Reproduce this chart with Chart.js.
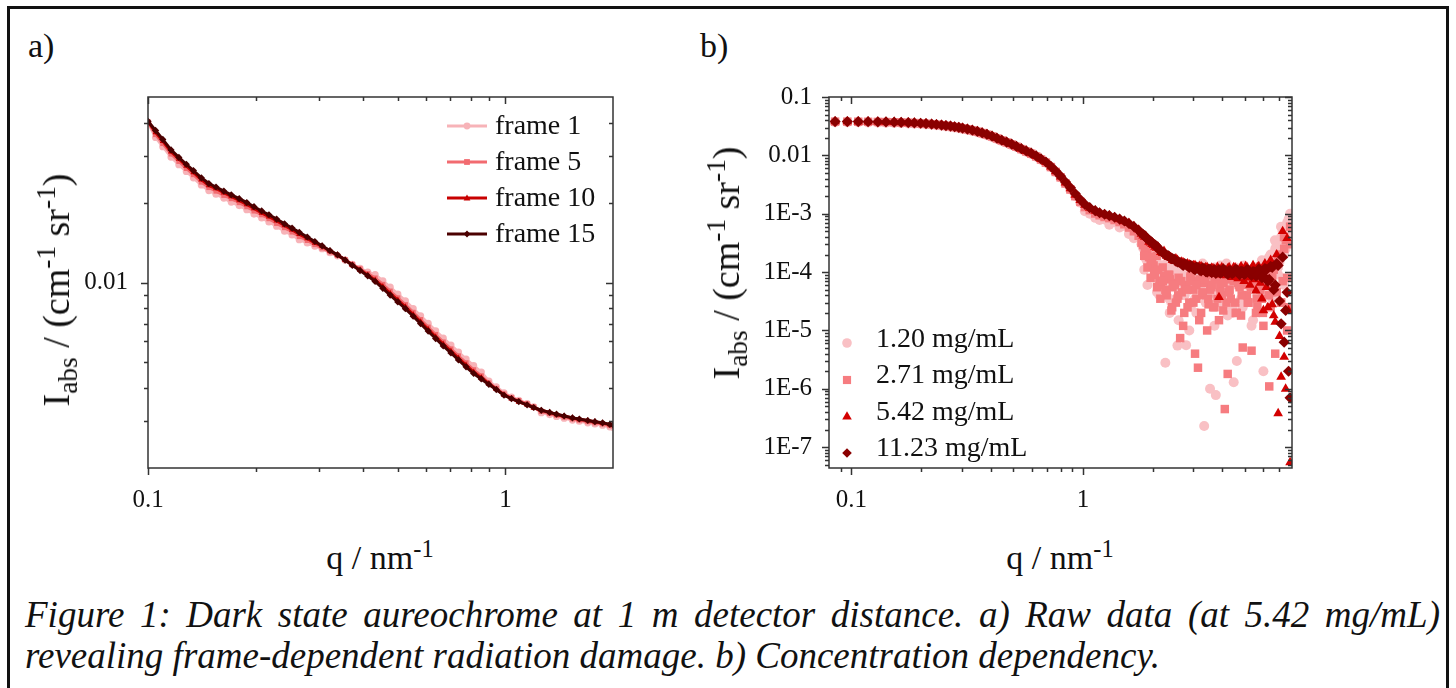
<!DOCTYPE html>
<html>
<head>
<meta charset="utf-8">
<script src="https://cdn.jsdelivr.net/npm/chart.js@4.4.1/dist/chart.umd.min.js"></script>
<style>
  html, body { margin: 0; padding: 0; background: #fff; }
  body { width: 1456px; height: 688px; position: relative; overflow: hidden;
         font-family: "Liberation Serif", "Times New Roman", serif; color: #111; }
  #box { position: absolute; left: 7px; top: 6px; width: 1442px; height: 720px;
         border: 3px solid #111; box-sizing: border-box; }
  canvas { position: absolute; }
  .panel { position: absolute; font-size: 34px; line-height: 34px; }
  .xtitle { position: absolute; top: 541px; font-size: 34px; line-height: 34px; white-space: nowrap;
            transform: translateX(-50%); }
  .ytitle { position: absolute; font-size: 38px; line-height: 38px; white-space: nowrap;
            transform: translate(-50%, -50%) rotate(-90deg); }
  sub, sup { font-size: 0.72em; line-height: 0; }
  sub { vertical-align: -0.28em; }
  sup { vertical-align: 0.5em; }
  .leg { position: absolute; font-size: 28px; line-height: 28px; white-space: nowrap; }
  #caption { position: absolute; left: 25px; top: 594px; width: 1415px; font-size: 37px; font-style: italic;
             line-height: 41px; text-align: justify; }
</style>
</head>
<body>
<div id="box"></div>
<div class="panel" style="left:28px;top:29px">a)</div>
<div class="panel" style="left:700px;top:29px">b)</div>
<canvas id="chartA" width="620" height="446" style="left:20px;top:62px;width:620px;height:446px"></canvas>
<canvas id="chartB" width="620" height="443" style="left:700px;top:65px;width:620px;height:443px"></canvas>
<div class="xtitle" style="left:380px">q / nm<sup>-1</sup></div>
<div class="xtitle" style="left:1060px">q / nm<sup>-1</sup></div>
<div class="ytitle" style="left:56px;top:290px">I<sub>abs</sub> / (cm<sup>-1</sup> sr<sup>-1</sup>)</div>
<div class="ytitle" style="left:726px;top:263px">I<sub>abs</sub> / (cm<sup>-1</sup> sr<sup>-1</sup>)</div>
<div id="legendA"></div>
<div id="legendB"></div>
<div id="caption">Figure 1: Dark state aureochrome at 1 m detector distance. a) Raw data (at 5.42 mg/mL) revealing frame-dependent radiation damage. b) Concentration dependency.</div>

<script>
// ---- panel a: raw frames at 5.42 mg/mL ----
const qA = [
  0.100, 0.105, 0.110, 0.116, 0.122, 0.128, 0.134, 0.141, 0.148, 0.155,
  0.163, 0.171, 0.180, 0.189, 0.198, 0.208, 0.218, 0.229, 0.241, 0.253,
  0.265, 0.279, 0.293, 0.307, 0.323, 0.339, 0.356, 0.373, 0.392, 0.412,
  0.432, 0.454, 0.476, 0.500, 0.525, 0.552, 0.579, 0.608, 0.638, 0.670,
  0.704, 0.739, 0.776, 0.815, 0.856, 0.899, 0.943, 0.991, 1.04, 1.09,
  1.15, 1.20, 1.26, 1.33, 1.39, 1.46, 1.54, 1.61, 1.70, 1.78,
  1.87, 1.96, 2.00
];
const frame1 = [
  0.0400, 0.0352, 0.0325, 0.0297, 0.0278, 0.0262, 0.0248, 0.0233, 0.0222, 0.0215,
  0.0208, 0.0201, 0.0195, 0.0188, 0.0181, 0.0175, 0.0169, 0.0163, 0.0156, 0.0151,
  0.0145, 0.0141, 0.0137, 0.0134, 0.01295, 0.0126, 0.01215, 0.0117, 0.0113, 0.01095,
  0.0107, 0.01015, 0.0096, 0.00904, 0.00853, 0.00798, 0.00749, 0.00702, 0.00658, 0.00617,
  0.00581, 0.00547, 0.00515, 0.00486, 0.0046, 0.00425, 0.00404, 0.00384, 0.0037, 0.0036,
  0.0035, 0.0034, 0.00323, 0.00318, 0.00313, 0.00308, 0.00303, 0.0030, 0.00296, 0.00293,
  0.0029, 0.00286, 0.00285
];
const frame5 = [
  0.0403, 0.0361, 0.0334, 0.0305, 0.0286, 0.0269, 0.0255, 0.0239, 0.0228, 0.0221,
  0.0213, 0.0207, 0.0200, 0.0193, 0.0186, 0.0180, 0.0174, 0.0167, 0.0161, 0.0155,
  0.0149, 0.0144, 0.0139, 0.0135, 0.01305, 0.01265, 0.0122, 0.0117, 0.01125, 0.0108,
  0.0104, 0.00984, 0.00928, 0.00875, 0.00825, 0.00772, 0.00725, 0.00679, 0.00637, 0.00597,
  0.00562, 0.00529, 0.00498, 0.00469, 0.00445, 0.00418, 0.00399, 0.0038, 0.00368, 0.00359,
  0.00349, 0.0034, 0.00327, 0.00321, 0.00316, 0.00311, 0.00306, 0.00303, 0.00299, 0.00296,
  0.00293, 0.00289, 0.00288
];
const frame10 = [
  0.0405, 0.0368, 0.0341, 0.0311, 0.0292, 0.0275, 0.0260, 0.0244, 0.0232, 0.0226,
  0.0218, 0.0211, 0.0204, 0.0197, 0.0190, 0.0183, 0.0177, 0.0171, 0.0164, 0.0158,
  0.0152, 0.01465, 0.0141, 0.0137, 0.01315, 0.0127, 0.01217, 0.01165, 0.01115, 0.01067,
  0.0102, 0.00965, 0.0091, 0.00858, 0.00809, 0.00757, 0.00711, 0.00666, 0.00624, 0.00586,
  0.00551, 0.00519, 0.00488, 0.0046, 0.00438, 0.00416, 0.00396, 0.00377, 0.00365, 0.00355,
  0.00346, 0.00337, 0.0033, 0.00324, 0.00318, 0.00314, 0.00309, 0.00305, 0.00302, 0.00299,
  0.00295, 0.00292, 0.0029
];
const frame15 = [
  0.0405, 0.0374, 0.0346, 0.0316, 0.0296, 0.0279, 0.0264, 0.0248, 0.0236, 0.0229,
  0.0221, 0.0214, 0.0207, 0.0200, 0.0193, 0.0186, 0.0180, 0.01734, 0.01664, 0.01603,
  0.01545, 0.01484, 0.01427, 0.01375, 0.01318, 0.01271, 0.01215, 0.01161, 0.01109, 0.01059,
  0.01009, 0.00951, 0.00897, 0.00845, 0.00797, 0.00746, 0.0070, 0.00656, 0.00615, 0.00577,
  0.00543, 0.00511, 0.00481, 0.00454, 0.00433, 0.00413, 0.00395, 0.00376, 0.00365, 0.00356,
  0.00346, 0.00338, 0.0033, 0.00324, 0.00319, 0.00314, 0.00309, 0.00306, 0.00302, 0.00299,
  0.00296, 0.00292, 0.00291
];
const frameLabels = ['frame 1', 'frame 5', 'frame 10', 'frame 15'];

// ---- panel b: concentration series ----
const qB = [
  0.085, 0.096, 0.107, 0.118, 0.130, 0.141, 0.153, 0.164, 0.176, 0.187,
  0.199, 0.210, 0.222, 0.233, 0.245, 0.256, 0.268, 0.279, 0.291, 0.302,
  0.317, 0.333, 0.350, 0.367, 0.385, 0.405, 0.425, 0.446, 0.468, 0.492,
  0.516, 0.542, 0.569, 0.598, 0.628, 0.659, 0.692, 0.727, 0.763, 0.801,
  0.841, 0.883, 0.927, 0.974, 1.02, 1.07, 1.13, 1.18, 1.24, 1.30,
  1.37, 1.44, 1.51, 1.58, 1.66, 1.74, 1.79, 1.85, 1.90, 1.96,
  2.02, 2.08, 2.14, 2.21, 2.27, 2.34, 2.41, 2.48, 2.56, 2.63,
  2.71, 2.79, 2.88, 2.96, 3.05, 3.14, 3.24, 3.34, 3.44, 3.54,
  3.65, 3.75, 3.87, 3.98, 4.10, 4.22, 4.35, 4.48, 4.62, 4.75,
  4.90, 5.04, 5.19, 5.35, 5.51, 5.67, 5.84, 6.02, 6.20, 6.38,
  6.57, 6.77, 6.97, 7.18, 7.40, 7.62, 7.85
];
const conc120 = [
  0.0370, 0.0370, 0.0369, 0.0367, 0.0365, 0.0363, 0.0360, 0.0357, 0.0353, 0.0349,
  0.0344, 0.0340, 0.0334, 0.0328, 0.0321, 0.0314, 0.0307, 0.0300, 0.0292, 0.0284,
  0.0274, 0.0262, 0.0249, 0.0236, 0.0222, 0.0207, 0.0191, 0.0177, 0.0164, 0.0151,
  0.0139, 0.0126, 0.0115, 0.0106, 0.0095, 0.0084, 0.0075, 0.0063, 0.0052, 0.0042,
  0.0033, 0.0026, 0.0020, 0.00155, 0.0011, 0.0010, 8.5e-4, 7.8e-4, 8.0e-4, 6.5e-4,
  7.2e-4, 5.8e-4, 6.2e-4, 4.5e-4, 3.8e-4, 4.2e-4, 3.0e-4, 2.0e-4, 1.5e-4, 2.4e-4,
  8.0e-5, 1.6e-4, 4.0e-5, 1.1e-4, 2.8e-6, 1.4e-4, 3.0e-5, 9.0e-5, 5.5e-6, 7.0e-5,
  1.3e-4, 5.6e-6, 1.0e-5, 8.5e-5, 3.5e-5, 1.2e-4, 6.0e-5, 2.3e-7, 9.0e-5, 1.0e-6,
  5.0e-5, 7.8e-7, 1.1e-4, 3.0e-5, 7.5e-5, 1.8e-5, 1.0e-4, 1.3e-6, 3.0e-6, 8.0e-5,
  2.5e-5, 1.1e-4, 6.0e-5, 1.2e-5, 9.0e-5, 4.0e-5, 1.3e-4, 2.0e-6, 7.0e-5, 1.5e-4,
  3.5e-5, 2.5e-4, 9.0e-5, 4.0e-4, 6.0e-5, 7.0e-4, 1.0e-3
];
const conc271 = [
  0.0378, 0.0378, 0.0377, 0.0376, 0.0374, 0.0372, 0.0369, 0.0366, 0.0362, 0.0358,
  0.0353, 0.0348, 0.0342, 0.0336, 0.0329, 0.0322, 0.0315, 0.0307, 0.0299, 0.0291,
  0.0280, 0.0268, 0.0255, 0.0241, 0.0227, 0.0211, 0.0195, 0.0180, 0.0167, 0.0154,
  0.0141, 0.0128, 0.0117, 0.0107, 0.0096, 0.0085, 0.0075, 0.0063, 0.0052, 0.0042,
  0.0033, 0.0026, 0.0020, 0.0016, 0.0013, 0.00115, 0.00101, 9.4e-4, 8.8e-4, 8.4e-4,
  7.8e-4, 7.2e-4, 6.6e-4, 5.8e-4, 5.0e-4, 4.2e-4, 3.2e-4, 2.6e-4, 2.5e-4, 1.6e-4,
  1.3e-4, 1.9e-4, 7.0e-5, 1.2e-4, 5.0e-5, 9.0e-5, 2.2e-5, 6.5e-5, 3.5e-5, 7.4e-6,
  1.2e-5, 5.5e-5, 3.0e-5, 7.0e-5, 4.0e-6, 2.3e-6, 2.0e-5, 6.5e-5, 1.0e-5, 5.0e-5,
  2.5e-5, 7.5e-5, 1.5e-5, 4.0e-5, 4.5e-7, 1.8e-6, 3.5e-5, 7.0e-5, 2.0e-5, 5.5e-5,
  5.1e-6, 6.0e-5, 3.0e-5, 4.5e-6, 7.0e-5, 2.5e-5, 5.0e-5, 1.2e-5, 6.5e-5, 1.1e-6,
  8.0e-5, 4.0e-6, 1.5e-4, 3.0e-5, 2.5e-4, 1.0e-5, 6.0e-4
];
const conc542 = [
  0.0380, 0.0380, 0.0379, 0.0378, 0.0376, 0.0373, 0.0371, 0.0367, 0.0364, 0.0359,
  0.0355, 0.0349, 0.0344, 0.0337, 0.0331, 0.0323, 0.0316, 0.0309, 0.0300, 0.0292,
  0.0281, 0.0269, 0.0256, 0.0242, 0.0228, 0.0212, 0.0196, 0.0181, 0.0168, 0.0155,
  0.0142, 0.0129, 0.0118, 0.0108, 0.0097, 0.0086, 0.0076, 0.0064, 0.0053, 0.0043,
  0.0034, 0.0027, 0.0021, 0.0017, 0.00142, 0.00125, 0.00112, 0.00103, 9.7e-4, 9.2e-4,
  8.6e-4, 8.0e-4, 7.4e-4, 6.9e-4, 6.1e-4, 5.3e-4, 4.5e-4, 4.0e-4, 3.8e-4, 3.2e-4,
  2.9e-4, 2.6e-4, 2.5e-4, 2.1e-4, 2.0e-4, 1.8e-4, 1.75e-4, 1.55e-4, 1.6e-4, 1.4e-4,
  1.45e-4, 1.25e-4, 1.35e-4, 1.15e-4, 1.3e-4, 1.1e-4, 1.25e-4, 1.0e-4, 1.2e-4, 9.5e-5,
  1.15e-4, 1.0e-4, 3.7e-5, 1.2e-4, 9.0e-5, 1.15e-4, 9.5e-5, 1.2e-4, 8.5e-5, 1.1e-4,
  9.0e-5, 1.25e-4, 8.0e-5, 1.15e-4, 7.5e-5, 1.2e-4, 6.5e-5, 2.2e-5, 5.5e-5, 1.4e-4,
  2.8e-5, 1.4e-5, 3.8e-7, 1.6e-6, 3.5e-6, 3.8e-4, 5.5e-8
];
const conc1123 = [
  0.0380, 0.0380, 0.0380, 0.0378, 0.0376, 0.0374, 0.0371, 0.0368, 0.0364, 0.0360,
  0.0355, 0.0350, 0.0344, 0.0338, 0.0331, 0.0324, 0.0317, 0.0309, 0.0301, 0.0293,
  0.0282, 0.0270, 0.0257, 0.0243, 0.0229, 0.0213, 0.0197, 0.0182, 0.0169, 0.0156,
  0.0143, 0.0130, 0.0119, 0.0109, 0.0098, 0.0087, 0.0077, 0.0065, 0.0054, 0.0044,
  0.0035, 0.0028, 0.0022, 0.00175, 0.00145, 0.00127, 0.00113, 0.00104, 9.8e-4, 9.3e-4,
  8.7e-4, 8.1e-4, 7.5e-4, 6.8e-4, 6.0e-4, 5.2e-4, 4.6e-4, 4.2e-4, 3.7e-4, 3.4e-4,
  3.0e-4, 2.8e-4, 2.4e-4, 2.2e-4, 2.0e-4, 1.9e-4, 1.7e-4, 1.65e-4, 1.5e-4, 1.45e-4,
  1.3e-4, 1.35e-4, 1.2e-4, 1.25e-4, 1.1e-4, 1.2e-4, 1.05e-4, 1.15e-4, 1.0e-4, 1.12e-4,
  1.05e-4, 9.5e-5, 1.1e-4, 1.0e-4, 1.08e-4, 9.2e-5, 1.05e-4, 9.8e-5, 1.1e-4, 9.0e-5,
  1.02e-4, 9.5e-5, 1.08e-4, 8.8e-5, 1.0e-4, 9.2e-5, 1.05e-4, 8.5e-5, 1.1e-4, 7.5e-5,
  1.2e-4, 6.0e-5, 1.3e-4, 1.3e-5, 6.3e-6, 4.5e-5, 7.0e-7
];
// extra high-q points between the grid above (noisy tail)
const qBTail = [
  1.82, 1.87, 1.93, 1.99, 2.05, 2.11, 2.17, 2.24, 2.30, 2.37,
  2.44, 2.52, 2.59, 2.67, 2.75, 2.83, 2.92, 3.00, 3.09, 3.19,
  3.29, 3.39, 3.49, 3.60, 3.70, 3.81, 3.92, 4.04, 4.16, 4.28,
  4.41, 4.55, 4.68, 4.82, 4.97, 5.11, 5.27, 5.43, 5.59, 5.75,
  5.93, 6.11, 6.29, 6.47, 6.67, 6.87, 7.07, 7.29, 7.51, 7.73
];
const conc120Tail = [
  2.6e-4, 1.7e-4, 2.1e-4, 1.2e-4, 1.8e-4, 7.0e-5, 1.3e-4, 5.0e-5, 1.0e-4, 2.0e-5,
  1.2e-4, 6.5e-5, 1.5e-5, 9.5e-5, 4.0e-5, 1.25e-4, 2.5e-5, 8.0e-5, 1.1e-4, 5.0e-5,
  1.4e-4, 3.0e-5, 1.0e-4, 7.0e-5, 1.2e-5, 9.0e-5, 1.3e-4, 4.5e-5, 1.1e-4, 6.0e-5,
  2.0e-5, 1.2e-4, 8.5e-5, 3.5e-5, 1.3e-4, 6.5e-5, 1.0e-4, 1.5e-5, 1.2e-4, 8.0e-5,
  1.6e-4, 4.5e-5, 1.3e-4, 2.0e-4, 9.0e-5, 3.0e-4, 1.5e-4, 5.0e-4, 2.5e-4, 8.0e-4
];
const conc271Tail = [
  2.9e-4, 2.2e-4, 1.8e-4, 1.4e-4, 9.0e-5, 1.1e-4, 6.0e-5, 8.5e-5, 4.0e-5, 7.5e-5,
  5.5e-5, 3.0e-5, 8.0e-5, 4.5e-5, 6.0e-5, 2.5e-5, 8.5e-5, 5.0e-5, 3.5e-5, 7.5e-5,
  4.0e-5, 9.0e-5, 2.8e-5, 6.0e-5, 8.0e-5, 3.5e-5, 5.5e-5, 2.2e-5, 7.5e-5, 4.5e-5,
  9.0e-5, 3.0e-5, 6.5e-5, 1.8e-5, 8.0e-5, 4.0e-5, 7.0e-5, 5.5e-5, 2.0e-5, 8.5e-5,
  3.5e-5, 9.5e-5, 6.0e-5, 2.5e-5, 1.1e-4, 4.5e-5, 2.0e-4, 7.0e-5, 3.5e-4, 2.5e-5
];
const conc542Tail = [
  4.2e-4, 4.1e-4, 3.3e-4, 3.0e-4, 2.7e-4, 2.7e-4, 2.2e-4, 2.3e-4, 1.9e-4, 1.85e-4,
  1.6e-4, 1.7e-4, 1.45e-4, 1.5e-4, 1.3e-4, 1.4e-4, 1.2e-4, 1.3e-4, 1.12e-4, 1.25e-4,
  1.05e-4, 1.2e-4, 9.8e-5, 1.18e-4, 9.2e-5, 1.22e-4, 9.0e-5, 1.15e-4, 8.8e-5, 1.2e-4,
  8.2e-5, 1.18e-4, 7.8e-5, 1.25e-4, 7.0e-5, 1.2e-4, 6.0e-5, 1.3e-4, 4.8e-5, 1.25e-4,
  3.5e-5, 1.4e-4, 2.5e-5, 1.6e-4, 1.8e-5, 2.0e-4, 8.0e-6, 5.0e-4, 1.0e-6, 2.2e-5
];
const conc1123Tail = [
  4.4e-4, 3.9e-4, 3.5e-4, 3.2e-4, 2.9e-4, 2.6e-4, 2.3e-4, 2.1e-4, 1.95e-4, 1.8e-4,
  1.7e-4, 1.55e-4, 1.5e-4, 1.38e-4, 1.4e-4, 1.28e-4, 1.3e-4, 1.15e-4, 1.22e-4, 1.08e-4,
  1.18e-4, 1.02e-4, 1.12e-4, 9.8e-5, 1.1e-4, 1.04e-4, 9.6e-5, 1.12e-4, 9.7e-5, 1.06e-4,
  9.4e-5, 1.1e-4, 9.9e-5, 1.04e-4, 9.1e-5, 1.1e-4, 9.6e-5, 1.02e-4, 8.6e-5, 1.12e-4,
  8.0e-5, 1.15e-4, 7.0e-5, 1.25e-4, 5.0e-5, 1.4e-4, 3.2e-5, 1.8e-4, 2.2e-5, 2.0e-6
];
// second set of tail points for the two dilute samples (dense cloud)
const qBTail2 = [
  1.84, 1.90, 1.96, 2.03, 2.09, 2.16, 2.22, 2.29, 2.36, 2.43,
  2.50, 2.58, 2.66, 2.74, 2.82, 2.91, 3.00, 3.09, 3.18, 3.28,
  3.38, 3.48, 3.59, 3.70, 3.81, 3.93, 4.05, 4.17, 4.30, 4.43,
  4.57, 4.71, 4.85, 5.00, 5.15, 5.31, 5.47, 5.64, 5.81, 5.99,
  6.17, 6.36, 6.55, 6.75, 6.96, 7.17, 7.39, 7.62, 7.85
];
const conc120Tail2 = [
  1.1e-4, 6.0e-5, 1.3e-4, 8.0e-5, 4.5e-5, 1.1e-4, 7.5e-5, 1.4e-4, 3.5e-5, 9.0e-5,
  6.0e-5, 1.2e-4, 4.0e-5, 1.0e-4, 7.0e-5, 5.0e-5, 1.3e-4, 2.0e-5, 9.5e-5, 6.5e-5,
  1.1e-4, 4.0e-5, 8.0e-5, 1.2e-4, 5.5e-5, 3.0e-5, 9.0e-5, 1.4e-4, 6.0e-5, 2.5e-5,
  1.0e-4, 7.0e-5, 1.2e-4, 4.0e-5, 8.5e-5, 1.1e-4, 3.0e-5, 7.0e-5, 1.3e-4, 5.0e-5,
  9.0e-5, 1.8e-4, 6.0e-5, 3.5e-4, 1.2e-4, 6.0e-4, 2.0e-4, 3.0e-4, 4.5e-4
];
const conc271Tail2 = [
  1.9e-4, 1.2e-4, 8.0e-5, 1.0e-4, 5.5e-5, 3.5e-5, 7.0e-5, 4.5e-5, 9.0e-5, 2.5e-5,
  6.0e-5, 4.0e-5, 7.0e-5, 2.0e-5, 5.0e-5, 8.0e-5, 3.0e-5, 6.0e-5, 1.5e-5, 4.5e-5,
  7.5e-5, 3.5e-5, 5.5e-5, 2.5e-5, 8.5e-5, 4.5e-5, 6.5e-5, 3.0e-5, 5.0e-5, 8.0e-5,
  2.0e-5, 6.0e-5, 4.0e-5, 7.5e-5, 3.0e-5, 5.5e-5, 9.0e-5, 3.5e-5, 6.0e-5, 2.0e-5,
  7.0e-5, 4.0e-5, 1.0e-4, 5.0e-5, 1.6e-4, 3.0e-5, 4.0e-4, 8.0e-5, 3.0e-4
];
const concLabels = ['1.20 mg/mL', '2.71 mg/mL', '5.42 mg/mL', '11.23 mg/mL'];

// ticks
const xTicksA = [0.1, 1], xTickLabelsA = ['0.1', '1'];
const yTicksA = [0.01], yTickLabelsA = ['0.01'];
const xMinorA = [0.2, 0.3, 0.4, 0.5, 0.6, 0.7, 0.8, 0.9];
const yMinorA = [0.003, 0.004, 0.005, 0.006, 0.007, 0.008, 0.009, 0.02, 0.03, 0.04];
const xTicksB = [0.1, 1], xTickLabelsB = ['0.1', '1'];
const yTicksB = [0.1, 0.01, 1e-3, 1e-4, 1e-5, 1e-6, 1e-7];
const yTickLabelsB = ['0.1', '0.01', '1E-3', '1E-4', '1E-5', '1E-6', '1E-7'];
const xMinorB = [0.09, 0.2, 0.3, 0.4, 0.5, 0.6, 0.7, 0.8, 0.9, 2, 3, 4, 5, 6, 7];
const yMinorB = [];
[1e-8, 1e-7, 1e-6, 1e-5, 1e-4, 1e-3, 1e-2].forEach(d => {
  for (let m = 2; m <= 9; m++) { const v = m * d; if (v > 4.4e-8 && v < 0.1) yMinorB.push(v); }
});

const frameColors = ['#f7b3b8', '#f26b70', '#c80000', '#4b0000'];
const frameMarkers = ['circle', 'rect', 'triangle', 'rectRot'];
const concColors = ['#f9c0c4', '#f67c80', '#d30000', '#8a0000'];
const concMarkers = ['circle', 'rect', 'triangle', 'rectRot'];

// box, mirrored ticks
const frameAxes = {
  id: 'frameAxes',
  afterDatasetsDraw(chart, args, o) {
    const { ctx, chartArea: a, scales } = chart;
    ctx.save();
    ctx.strokeStyle = '#333';
    ctx.lineWidth = 1.5;
    ctx.strokeRect(a.left, a.top, a.right - a.left, a.bottom - a.top);
    ctx.beginPath();
    const xt = (vals, len) => vals.forEach(v => {
      const p = Math.round(scales.x.getPixelForValue(v)) + 0.5;
      ctx.moveTo(p, a.bottom); ctx.lineTo(p, a.bottom + len);
      ctx.moveTo(p, a.top); ctx.lineTo(p, a.top + len);
    });
    const yt = (vals, len) => vals.forEach(v => {
      const p = Math.round(scales.y.getPixelForValue(v)) + 0.5;
      ctx.moveTo(a.left, p); ctx.lineTo(a.left - len, p);
      ctx.moveTo(a.right, p); ctx.lineTo(a.right - len, p);
    });
    xt(o.xMajor, 7); xt(o.xMinor, 4);
    yt(o.yMajor, 7); yt(o.yMinor, 4);
    ctx.stroke();
    ctx.restore();
  }
};

function logAxis(min, max, ticks, labels, pad, size, isX) {
  return {
    type: 'logarithmic', min, max,
    grid: { display: false, drawTicks: false },
    border: { display: false },
    afterBuildTicks: s => { s.ticks = ticks.map(v => ({ value: v })); },
    afterFit: s => { if (isX) s.height = size; else s.width = size; },
    ticks: {
      autoSkip: false, maxRotation: 0, padding: pad, color: '#111',
      font: { family: 'Liberation Serif', size: 25 },
      callback: (v, i) => labels[i]
    }
  };
}

new Chart(document.getElementById('chartA'), {
  type: 'line',
  data: {
    datasets: [frame1, frame5, frame10, frame15].map((ys, k) => ({
      label: frameLabels[k],
      data: qA.map((q, i) => ({ x: q, y: ys[i] })),
      borderColor: frameColors[k], backgroundColor: frameColors[k],
      pointStyle: frameMarkers[k], pointRadius: 3.6, pointBorderWidth: 0,
      borderWidth: 3, tension: 0, order: 4 - k
    }))
  },
  options: {
    responsive: false, animation: false, events: [],
    layout: { padding: { left: 0, top: 0, right: 27, bottom: 0 } },
    plugins: {
      legend: { display: false }, tooltip: { enabled: false },
      frameAxes: { xMajor: xTicksA, xMinor: xMinorA, yMajor: yTicksA, yMinor: yMinorA }
    },
    scales: {
      x: logAxis(0.1, 2, xTicksA, xTickLabelsA, 17, 40, true),
      y: logAxis(0.002, 0.05, yTicksA, yTickLabelsA, 20, 128, false)
    }
  },
  plugins: [frameAxes]
});

const concMain = [conc120, conc271, conc542, conc1123];
const concTail = [conc120Tail, conc271Tail, conc542Tail, conc1123Tail];
const concTail2 = [conc120Tail2, conc271Tail2, [], []];
new Chart(document.getElementById('chartB'), {
  type: 'scatter',
  data: {
    datasets: concMain.map((ys, k) => ({
      label: concLabels[k],
      data: qB.map((q, i) => ({ x: q, y: ys[i] }))
        .concat(qBTail.map((q, i) => ({ x: q, y: concTail[k][i] })))
        .concat(concTail2[k].map((y, i) => ({ x: qBTail2[i], y }))),
      borderColor: concColors[k], backgroundColor: concColors[k],
      pointStyle: concMarkers[k], pointRadius: [5, 6, 5.6, 5.6][k], pointBorderWidth: 0,
      showLine: false, order: 4 - k
    }))
  },
  options: {
    responsive: false, animation: false, events: [],
    layout: { padding: { left: 0, top: 0, right: 28, bottom: 0 } },
    plugins: {
      legend: { display: false }, tooltip: { enabled: false },
      frameAxes: { xMajor: xTicksB, xMinor: xMinorB, yMajor: yTicksB, yMinor: yMinorB }
    },
    scales: {
      x: logAxis(0.08, 8, xTicksB, xTickLabelsB, 17, 40, true),
      y: logAxis(4.4e-8, 0.1, yTicksB, yTickLabelsB, 17, 129, false)
    }
  },
  plugins: [frameAxes]
});

// legends (HTML)
function markerSvg(style, color, cx, cy, r) {
  if (style === 'circle') return `<circle cx="${cx}" cy="${cy}" r="${r}" fill="${color}"/>`;
  if (style === 'rect') return `<rect x="${cx - r * 0.85}" y="${cy - r * 0.85}" width="${r * 1.7}" height="${r * 1.7}" fill="${color}"/>`;
  if (style === 'triangle') return `<polygon points="${cx},${cy - r} ${cx + r},${cy + r * 0.75} ${cx - r},${cy + r * 0.75}" fill="${color}"/>`;
  return `<polygon points="${cx},${cy - r} ${cx + r},${cy} ${cx},${cy + r} ${cx - r},${cy}" fill="${color}"/>`;
}
function buildLegend(el, labels, colors, markers, o) {
  labels.forEach((lab, k) => {
    const base = o.base + k * o.step;
    const row = document.createElement('div');
    row.className = 'leg';
    row.style.left = o.textX + 'px';
    row.style.top = (base - 23.5) + 'px';
    row.textContent = lab;
    el.appendChild(row);
    const svg = document.createElementNS('http://www.w3.org/2000/svg', 'svg');
    svg.setAttribute('width', 50); svg.setAttribute('height', 20);
    svg.style.position = 'absolute';
    svg.style.left = (o.iconX - 25) + 'px';
    svg.style.top = (base - o.iconDy - 10) + 'px';
    let inner = '';
    if (o.line) inner += `<line x1="5" y1="10" x2="45" y2="10" stroke="${colors[k]}" stroke-width="3"/>`;
    inner += markerSvg(markers[k], colors[k], 25, 10, o.r);
    svg.innerHTML = inner;
    el.appendChild(svg);
  });
}
buildLegend(document.getElementById('legendA'), frameLabels, frameColors, frameMarkers,
  { base: 134, step: 36, textX: 495, iconX: 467, iconDy: 8, line: true, r: 3.4 });
buildLegend(document.getElementById('legendB'), concLabels, concColors, concMarkers,
  { base: 347, step: 36.5, textX: 876, iconX: 847, iconDy: 4, line: false, r: 4.8 });
</script>
</body>
</html>
